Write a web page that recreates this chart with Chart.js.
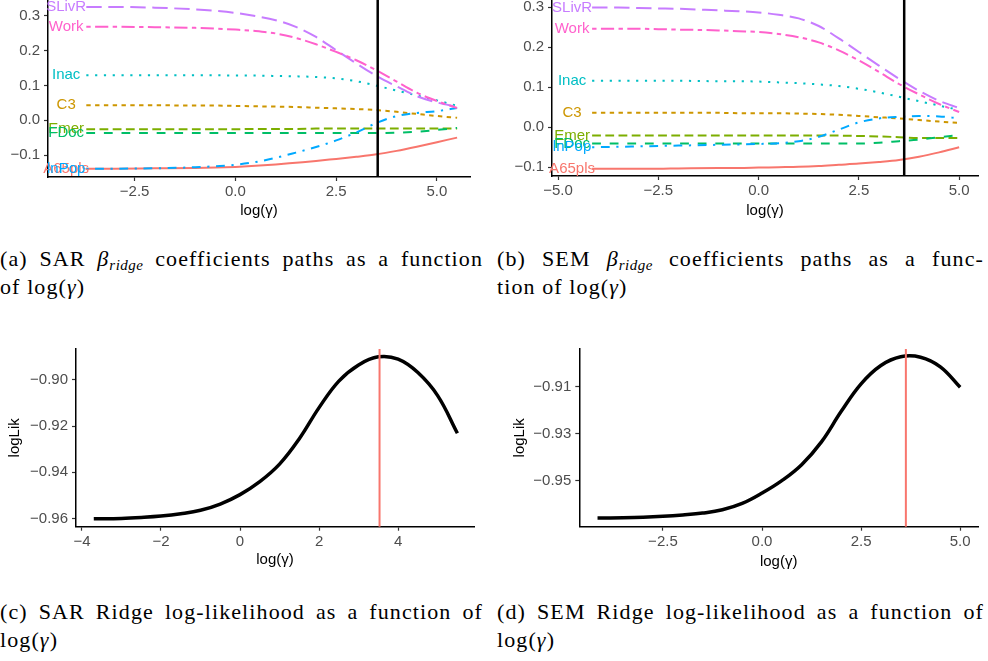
<!DOCTYPE html>
<html><head><meta charset="utf-8">
<script src="https://cdn.jsdelivr.net/npm/chart.js@4.4.0/dist/chart.umd.min.js"></script>
<style>
body{margin:0;background:#fff;width:988px;height:661px;overflow:hidden;position:relative;}
.box{position:absolute;}
.box canvas{display:block;}
.cap{position:absolute;font-family:"Liberation Serif","DejaVu Serif",serif;font-size:22px;line-height:28.4px;color:#000;letter-spacing:1.1px;}
.l1{text-align:justify;text-align-last:justify;}
.cap sub{font-size:15px;font-style:italic;vertical-align:-4px;line-height:0;letter-spacing:0.5px;}
</style></head>
<body>
<div class="box" style="left:0;top:0;width:480px;height:225px"><canvas id="ca" width="480" height="225"></canvas></div>
<div class="box" style="left:500px;top:0;width:488px;height:225px"><canvas id="cb" width="488" height="225"></canvas></div>
<div class="box" style="left:0;top:330px;width:490px;height:250px"><canvas id="cc" width="490" height="250"></canvas></div>
<div class="box" style="left:500px;top:330px;width:488px;height:250px"><canvas id="cd" width="488" height="250"></canvas></div>

<div class="cap" style="left:0;top:245px;width:483px"><div class="l1">(a) SAR <i>β</i><sub>ridge</sub> coefficients paths as a function</div><div>of log(<i>γ</i>)</div></div>
<div class="cap" style="left:497px;top:245px;width:487px"><div class="l1">(b) SEM <i>β</i><sub>ridge</sub> coefficients paths as a func-</div><div>tion of log(<i>γ</i>)</div></div>
<div class="cap" style="left:0;top:597.5px;width:483px"><div class="l1">(c) SAR Ridge log-likelihood as a function of</div><div>log(<i>γ</i>)</div></div>
<div class="cap" style="left:497px;top:597.5px;width:487px"><div class="l1">(d) SEM Ridge log-likelihood as a function of</div><div>log(<i>γ</i>)</div></div>

<script>
// ---------- DATA ----------
const variables = ['A65pls','C3','Emer','FDoc','Inac','lnPop','SLivR','Work'];

// (a) SAR ridge coefficient paths
const gammaSAR = [-3.7,-3,-2,-1,-0.5,0,0.5,1,1.5,2,2.5,3,3.5,4,4.5,5,5.5];
const sarA65pls = [-0.139,-0.139,-0.138,-0.137,-0.136,-0.134,-0.131,-0.127,-0.122,-0.117,-0.111,-0.105,-0.098,-0.088,-0.076,-0.063,-0.050];
const sarC3     = [0.043,0.043,0.043,0.042,0.042,0.041,0.040,0.039,0.038,0.036,0.034,0.032,0.029,0.024,0.018,0.012,0.007];
const sarEmer   = [-0.026,-0.026,-0.026,-0.026,-0.026,-0.026,-0.025,-0.025,-0.025,-0.024,-0.024,-0.024,-0.024,-0.024,-0.024,-0.024,-0.024];
const sarFDoc   = [-0.037,-0.037,-0.037,-0.037,-0.037,-0.037,-0.037,-0.037,-0.037,-0.037,-0.037,-0.037,-0.037,-0.036,-0.033,-0.028,-0.022];
const sarInac   = [0.129,0.129,0.129,0.129,0.129,0.128,0.128,0.127,0.126,0.124,0.120,0.112,0.099,0.085,0.071,0.057,0.041];
const sarLnPop  = [-0.139,-0.139,-0.138,-0.135,-0.132,-0.128,-0.120,-0.108,-0.093,-0.077,-0.058,-0.035,-0.008,0.012,0.021,0.026,0.035];
const sarSLivR  = [0.325,0.325,0.323,0.318,0.314,0.308,0.299,0.287,0.268,0.239,0.201,0.163,0.127,0.097,0.069,0.051,0.038];
const sarWork   = [0.268,0.268,0.267,0.265,0.263,0.260,0.256,0.249,0.236,0.218,0.196,0.172,0.143,0.111,0.079,0.055,0.035];
const optGammaSAR = 3.53;

// (b) SEM ridge coefficient paths
const gammaSEM = [-4.15,-3.5,-3,-2.5,-2,-1,-0.5,0,0.5,1,1.5,2,2.5,3,3.5,4,4.5,5];
const semA65pls = [-0.104,-0.104,-0.104,-0.104,-0.103,-0.102,-0.102,-0.101,-0.100,-0.099,-0.097,-0.094,-0.091,-0.087,-0.082,-0.074,-0.063,-0.050];
const semC3     = [0.036,0.036,0.036,0.036,0.036,0.036,0.035,0.035,0.035,0.034,0.033,0.031,0.028,0.025,0.022,0.018,0.014,0.011];
const semEmer   = [-0.021,-0.021,-0.021,-0.021,-0.021,-0.021,-0.021,-0.021,-0.021,-0.021,-0.021,-0.021,-0.022,-0.023,-0.025,-0.027,-0.027,-0.027];
const semFDoc   = [-0.041,-0.041,-0.041,-0.041,-0.041,-0.041,-0.041,-0.041,-0.041,-0.041,-0.041,-0.041,-0.041,-0.039,-0.035,-0.031,-0.025,-0.020];
const semInac   = [0.116,0.116,0.116,0.116,0.116,0.115,0.115,0.114,0.112,0.110,0.107,0.103,0.096,0.087,0.076,0.065,0.054,0.043];
const semLnPop  = [-0.050,-0.049,-0.048,-0.047,-0.046,-0.044,-0.043,-0.042,-0.040,-0.035,-0.024,-0.006,0.012,0.022,0.026,0.028,0.027,0.022];
const semSLivR  = [0.299,0.299,0.298,0.297,0.296,0.292,0.290,0.287,0.281,0.272,0.253,0.222,0.188,0.154,0.121,0.091,0.066,0.048];
const semWork   = [0.246,0.246,0.246,0.245,0.244,0.242,0.240,0.238,0.233,0.225,0.212,0.192,0.167,0.138,0.108,0.082,0.058,0.038];
const optGammaSEM = 3.63;

// (c) SAR ridge log-likelihood
const gammaLikSAR = [-3.7,-3,-2.5,-2,-1.5,-1,-0.5,0,0.5,1,1.5,2,2.5,3,3.5,4,4.5,5,5.5];
const logLikSAR = [-0.9602,-0.9600,-0.9596,-0.9590,-0.9580,-0.9565,-0.9538,-0.9497,-0.9441,-0.9365,-0.9255,-0.9120,-0.9005,-0.8935,-0.8900,-0.8910,-0.8968,-0.9068,-0.9231];

// (d) SEM ridge log-likelihood
const gammaLikSEM = [-4.15,-3.5,-3,-2.5,-2,-1.5,-1,-0.5,0,0.5,1,1.5,2,2.5,3,3.5,4,4.5,5];
const logLikSEM = [-0.9659,-0.9658,-0.9656,-0.9652,-0.9646,-0.9638,-0.9624,-0.9597,-0.9553,-0.9500,-0.9432,-0.9335,-0.9205,-0.9088,-0.9010,-0.8973,-0.8975,-0.9016,-0.9103];

// tick labels
const ticksXA = [-2.5,0,2.5,5];
const ticksYA = [-0.1,0,0.1,0.2,0.3];
const ticksXB = [-5,-2.5,0,2.5,5];
const ticksYB = [-0.1,0,0.1,0.2,0.3];
const ticksXC = [-4,-2,0,2,4];
const ticksYC = [-0.96,-0.94,-0.92,-0.90];
const ticksXD = [-2.5,0,2.5,5];
const ticksYD = [-0.95,-0.93,-0.91];

// ---------- STYLE ----------
const FONT = "'Liberation Sans', Arial, Helvetica, sans-serif";
const colors = {A65pls:'#F8766D',C3:'#CD9600',Emer:'#7CAE00',FDoc:'#00BE67',Inac:'#00BFC4',lnPop:'#00A9FF',SLivR:'#C77CFF',Work:'#FF61CC'};
const u = 2.2;
const dashes = {A65pls:[],C3:[2*u,2*u],Emer:[4*u,2*u],FDoc:[4*u,4*u],Inac:[1*u,3*u],lnPop:[1*u,3*u,4*u,3*u],SLivR:[7*u,3*u],Work:[2*u,2*u,6*u,2*u]};

Chart.defaults.font.family = FONT;

const minus = s => s.replace('-', '\u2212');
const fmt = d => v => minus(Number(v).toFixed(d));

const textLabels = {
  id:'textLabels',
  afterDatasetsDraw(chart, args, opts){
    if(!opts || !opts.enabled) return;
    const ctx = chart.ctx, xs = chart.scales.x, ys = chart.scales.y;
    ctx.save();
    ctx.font = '15px ' + FONT;
    ctx.textAlign = 'center';
    ctx.textBaseline = 'middle';
    chart.data.datasets.forEach(ds=>{
      if(!ds.labelText) return;
      ctx.fillStyle = ds.borderColor;
      ctx.fillText(ds.labelText, xs.getPixelForValue(opts.x), ys.getPixelForValue(ds.data[0].y));
    });
    ctx.restore();
  }
};
const vline = {
  id:'vline',
  afterDatasetsDraw(chart, args, opts){
    if(!opts || opts.x === undefined) return;
    const ctx = chart.ctx, xs = chart.scales.x, a = chart.chartArea;
    const px = xs.getPixelForValue(opts.x);
    ctx.save();
    ctx.strokeStyle = opts.color; ctx.lineWidth = opts.width;
    ctx.beginPath(); ctx.moveTo(px, a.top); ctx.lineTo(px, a.bottom); ctx.stroke();
    ctx.restore();
  }
};

function xAxis(min,max,ticks,dec,h,padB){
  return {type:'linear',min,max,
    afterBuildTicks:s=>{s.ticks = ticks.map(v=>({value:v}));},
    afterFit:s=>{s.height=h; s.paddingLeft=0; s.paddingRight=0;},
    ticks:{callback:fmt(dec),color:'#4D4D4D',font:{size:15},padding:2,maxRotation:0,autoSkip:false},
    grid:{display:true,drawOnChartArea:false,drawTicks:true,tickLength:4,tickColor:'#333333',tickWidth:1.2},
    border:{display:true,color:'#000',width:1.5},
    title:{display:true,text:'log(\u03B3)',color:'#000',font:{size:15},padding:{top:0,bottom:padB}}
  };
}
function yAxis(min,max,ticks,dec,w,title,padT){
  return {type:'linear',min,max,
    afterBuildTicks:s=>{s.ticks = ticks.map(v=>({value:v}));},
    afterFit:s=>{s.width=w; s.paddingTop=0; s.paddingBottom=0;},
    ticks:{callback:fmt(dec),color:'#4D4D4D',font:{size:15},padding:4,autoSkip:false},
    grid:{display:true,drawOnChartArea:false,drawTicks:true,tickLength:4,tickColor:'#333333',tickWidth:1.2},
    border:{display:true,color:'#000',width:1.5},
    title:{display:!!title,text:title||'',color:'#000',font:{size:15},padding:{top:padT||0,bottom:0}}
  };
}
const pts = (xs, ys) => xs.map((x,i)=>({x, y:ys[i]}));

function pathDatasets(gamma, series){
  return variables.map((v,i)=>({
    label:v, labelText:v, data:pts(gamma, series[i]),
    borderColor:colors[v], borderWidth:2, borderDash:dashes[v], borderCapStyle:'butt',
    pointRadius:0, fill:false, cubicInterpolationMode:'monotone', order: variables.length - i
  }));
}
function likDataset(gamma, vals){
  return [{label:'logLik', data:pts(gamma, vals), borderColor:'#000', borderWidth:3.5,
    pointRadius:0, fill:false, tension:0.4, borderJoinStyle:'round'}];
}
function baseOpts(padding, scales, plugins){
  return {responsive:false, animation:false, events:[], layout:{padding},
    scales, plugins:Object.assign({legend:{display:false}, tooltip:{enabled:false}}, plugins)};
}

// (a)
new Chart(document.getElementById('ca'), {
  type:'line',
  data:{datasets: pathDatasets(gammaSAR, [sarA65pls,sarC3,sarEmer,sarFDoc,sarInac,sarLnPop,sarSLivR,sarWork])},
  options: baseOpts({left:0,right:10,top:0,bottom:0},
    {x:xAxis(-4.65,5.82,ticksXA,1,48,5), y:yAxis(-0.163,0.345,ticksYA,1,48)},
    {textLabels:{enabled:true,x:-4.2}, vline:{x:optGammaSAR,color:'#000',width:2.5}}),
  plugins:[textLabels, vline]
});
// (b)
new Chart(document.getElementById('cb'), {
  type:'line',
  data:{datasets: pathDatasets(gammaSEM, [semA65pls,semC3,semEmer,semFDoc,semInac,semLnPop,semSLivR,semWork])},
  options: baseOpts({left:0,right:10,top:0,bottom:0},
    {x:xAxis(-5.15,5.47,ticksXB,1,49,5), y:yAxis(-0.122,0.318,ticksYB,1,52)},
    {textLabels:{enabled:true,x:-4.65}, vline:{x:optGammaSEM,color:'#000',width:2.5}}),
  plugins:[textLabels, vline]
});
// (c)
new Chart(document.getElementById('cc'), {
  type:'line',
  data:{datasets: likDataset(gammaLikSAR, logLikSAR)},
  options: baseOpts({left:0,right:16,top:19,bottom:0},
    {x:xAxis(-4.15,5.92,ticksXC,0,53.3,11), y:yAxis(-0.9636,-0.8866,ticksYC,2,76,'logLik',6)},
    {vline:{x:optGammaSAR,color:'#F8766D',width:2}}),
  plugins:[vline]
});
// (d)
new Chart(document.getElementById('cd'), {
  type:'line',
  data:{datasets: likDataset(gammaLikSEM, logLikSEM)},
  options: baseOpts({left:0,right:10,top:19,bottom:0},
    {x:xAxis(-4.61,5.45,ticksXD,1,53.3,9.3), y:yAxis(-0.9696,-0.894,ticksYD,2,79.3,'logLik',11)},
    {vline:{x:optGammaSEM,color:'#F8766D',width:2}}),
  plugins:[vline]
});
</script>
</body></html>
